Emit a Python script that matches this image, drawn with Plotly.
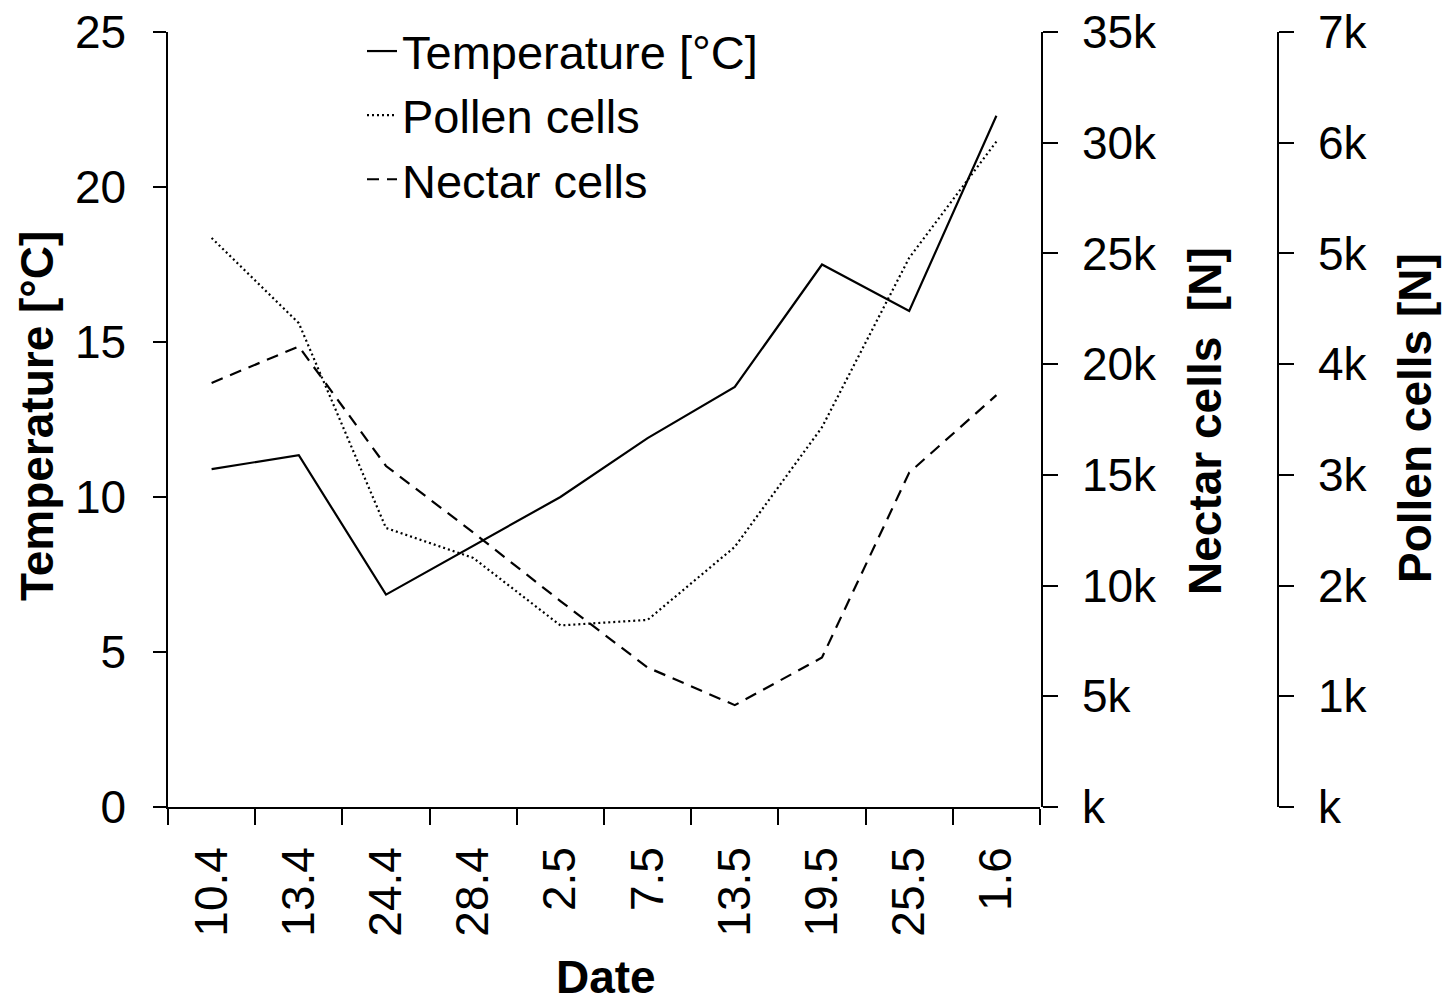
import plotly.graph_objects as go

dates = ["10.4", "13.4", "24.4", "28.4", "2.5", "7.5", "13.5", "19.5", "25.5", "1.6"]
temperature = [10.9, 11.35, 6.85, 8.42, 10.0, 11.9, 13.55, 17.5, 16.0, 22.3]
pollen_cells = [5140, 4370, 2520, 2250, 1640, 1690, 2350, 3430, 4960, 6010]
nectar_cells = [19150, 20800, 15400, 12400, 9300, 6300, 4600, 6750, 15100, 18600]

temp_ticks = [0, 5, 10, 15, 20, 25]
nectar_ticks = [0, 5000, 10000, 15000, 20000, 25000, 30000, 35000]
nectar_labels = ["k", "5k", "10k", "15k", "20k", "25k", "30k", "35k"]
pollen_ticks = [0, 1000, 2000, 3000, 4000, 5000, 6000, 7000]
pollen_labels = ["k", "1k", "2k", "3k", "4k", "5k", "6k", "7k"]

FONT = "Liberation Sans, Arial, sans-serif"
FS = 46

fig = go.Figure()
fig.add_trace(go.Scatter(x=dates, y=temperature, mode="lines", name="Temperature [°C]",
                         line=dict(color="black", width=2.2), yaxis="y", legendgroup="a"))
fig.add_trace(go.Scatter(x=dates, y=pollen_cells, mode="lines", name="Pollen cells",
                         line=dict(color="black", width=2.2, dash="2px,3px"), yaxis="y3", legendgroup="b"))
fig.add_trace(go.Scatter(x=dates, y=nectar_cells, mode="lines", name="Nectar cells",
                         line=dict(color="black", width=2.2, dash="12px,8px"), yaxis="y2", legendgroup="c"))

L, R, T, B = 168, 13, 32, 197
W, H = 1453, 1004
pw = W - L - R
ph = H - T - B

def px(x):
    return (x - L) / pw

def py(y):
    return (H - B - y) / ph

axis_common = dict(showline=True, linecolor="black", linewidth=1.5, ticks="outside",
                   tickcolor="black", tickwidth=1.5, showgrid=False, zeroline=False,
                   tickfont=dict(family=FONT, size=FS, color="black"))

fig.update_layout(
    width=W, height=H,
    margin=dict(l=L, r=R, t=T, b=B, autoexpand=False),
    paper_bgcolor="white", plot_bgcolor="white",
    font=dict(family=FONT, size=FS, color="black"),
    xaxis=dict(domain=[0, px(1040)], type="category", range=[-0.5, 9.5],
               tickson="boundaries", ticklen=16, tickangle=-90,
               ticklabelstandoff=20, **axis_common),
    yaxis=dict(range=[0, 25], tickvals=temp_ticks, ticklen=13,
               ticklabelstandoff=18, **axis_common),
    yaxis2=dict(range=[0, 35000], tickvals=nectar_ticks, ticktext=nectar_labels,
                overlaying="y", side="right", anchor="free", position=px(1042),
                ticklen=15, ticklabelstandoff=15, **axis_common),
    yaxis3=dict(range=[0, 7000], tickvals=pollen_ticks, ticktext=pollen_labels,
                overlaying="y", side="right", anchor="free", position=px(1278),
                ticklen=15, ticklabelstandoff=15, **axis_common),
    legend=dict(x=px(362), y=1 - 14 / H, xref="paper", yref="container",
                xanchor="left", yanchor="top",
                bgcolor="rgba(0,0,0,0)", font=dict(family=FONT, size=47, color="black"),
                tracegroupgap=0, itemwidth=30),
    showlegend=True,
)

annots = [
    dict(text="<b>Temperature [°C]</b>", x=px(37), y=py(416), textangle=-90),
    dict(text="<b>Nectar cells  [N]</b>", x=px(1205), y=py(421), textangle=-90),
    dict(text="<b>Pollen cells [N]</b>", x=px(1415), y=py(418), textangle=-90),
    dict(text="<b>Date</b>", x=px(606), y=py(977), textangle=0),
]
for a in annots:
    fig.add_annotation(xref="paper", yref="paper", showarrow=False,
                       xanchor="center", yanchor="middle",
                       font=dict(family=FONT, size=FS, color="black"), **a)

fig.write_html("out.html")
